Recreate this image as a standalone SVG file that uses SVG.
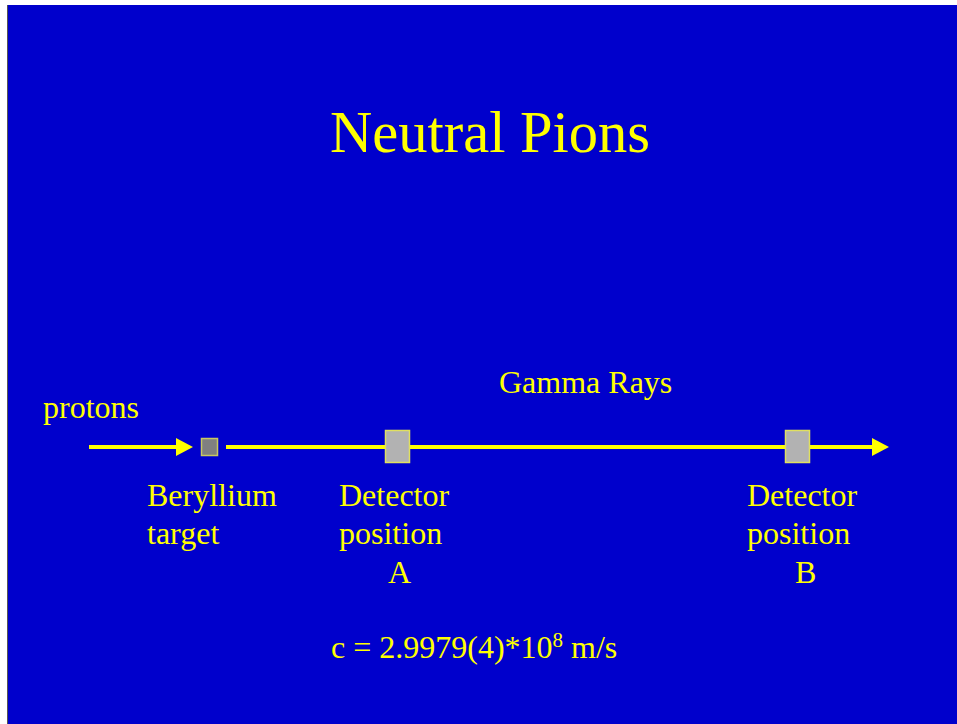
<svg xmlns="http://www.w3.org/2000/svg" width="957" height="724" viewBox="0 0 957 724">
<defs>
<style>
text{font-family:"Liberation Serif","Times New Roman",serif;fill:#FFFF00;}
.lbl{font-size:32px;}
.beam{stroke:#FFFF00;stroke-width:4;fill:none;}
.det{fill:#B2B2B2;stroke:#E0E060;stroke-width:1.5;}
</style>
<marker id="ah" markerUnits="userSpaceOnUse" markerWidth="18" markerHeight="18" refX="0" refY="9" orient="auto" viewBox="0 0 18 18">
<path d="M0,0 L17,9 L0,18 Z" fill="#FFFF00"/>
</marker>
</defs>
<rect x="0" y="0" width="957" height="724" fill="#FFFFFF"/>
<rect x="8" y="5" width="949" height="719" fill="#0000CC"/>
<line x1="7.5" y1="5" x2="7.5" y2="724" stroke="#555555" stroke-width="1"/>
<text x="330" y="152" style="font-size:58.5px">Neutral Pions</text>
<g id="connectors">
<line class="beam" x1="89" y1="447" x2="176" y2="447" marker-end="url(#ah)"/>
<line class="beam" x1="226" y1="447" x2="872" y2="447" marker-end="url(#ah)"/>
</g>
<g id="protons"><text class="lbl" x="43" y="418">protons</text></g>
<g id="gamma"><text class="lbl" x="499" y="393">Gamma Rays</text></g>
<g id="target">
<rect x="201.5" y="438.5" width="16" height="17" fill="#808080" stroke="#C8C860" stroke-width="1.5"/>
<text class="lbl" x="147" y="506">Beryllium</text>
<text class="lbl" x="147" y="544">target</text>
</g>
<g id="detA">
<rect class="det" x="385.5" y="430.5" width="24" height="32"/>
<text class="lbl" x="339" y="506">Detector</text>
<text class="lbl" x="339" y="544">position</text>
<text class="lbl" x="388" y="583">A</text>
</g>
<g id="detB">
<rect class="det" x="785.5" y="430.5" width="24" height="32"/>
<text class="lbl" x="747" y="506">Detector</text>
<text class="lbl" x="747" y="544">position</text>
<text class="lbl" x="795" y="583">B</text>
</g>
<g id="formula">
<text class="lbl" x="331" y="658">c = 2.9979(4)*10<tspan style="font-size:21px" dy="-11">8</tspan><tspan dy="11"> m/s</tspan></text>
</g>
</svg>
